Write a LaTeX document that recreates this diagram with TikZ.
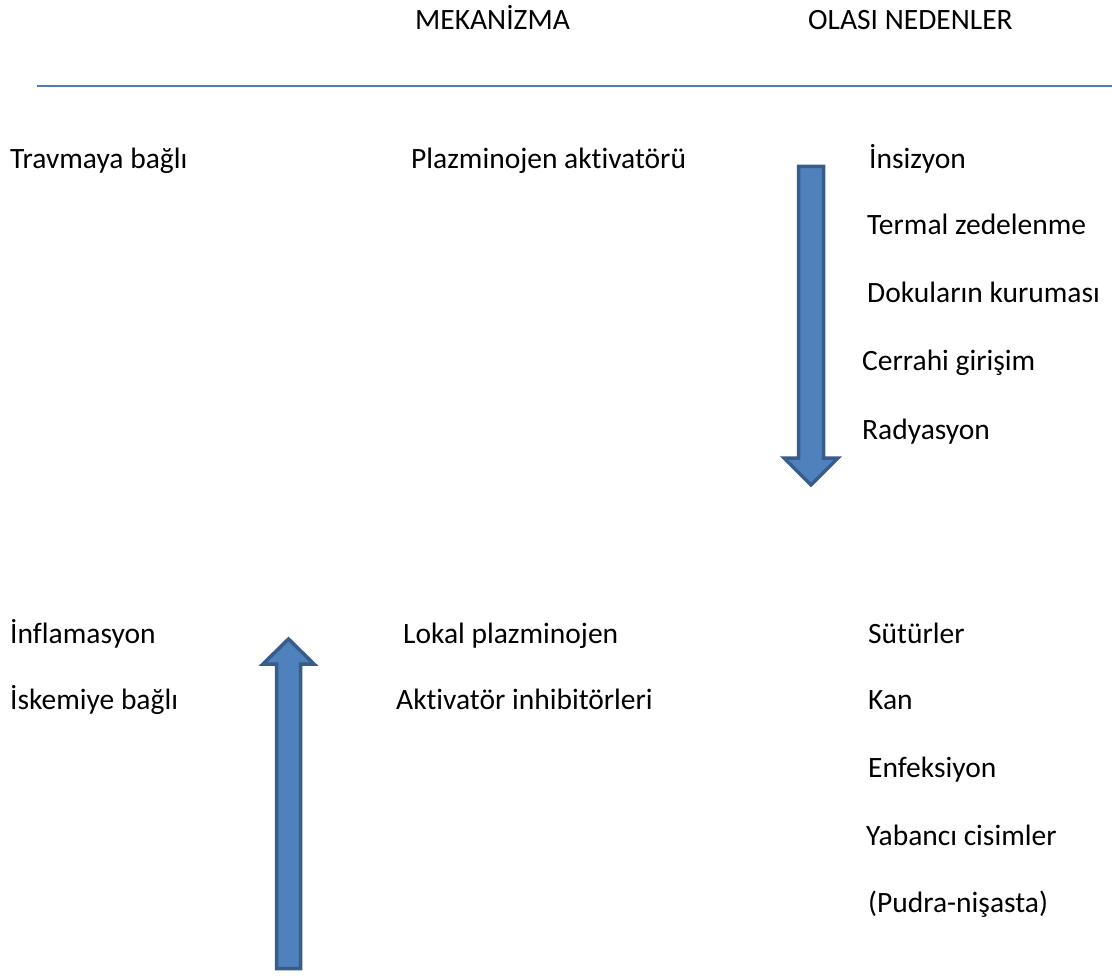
\documentclass[tikz,border=0pt]{standalone}
\usepackage{fontspec}
\setmainfont{Carlito}[Ligatures=NoCommon]
\definecolor{arrowfill}{HTML}{4F81BD}
\definecolor{arrowdraw}{HTML}{385D8A}
\definecolor{rulecol}{HTML}{4A7EBB}
\begin{document}
\begin{tikzpicture}[x=1pt,y=-1pt,
  lbl/.style={anchor=base west,inner sep=0pt,font=\fontsize{29.5}{34}\selectfont},
  hdr/.style={anchor=base west,inner sep=0pt,font=\fontsize{29.5}{34}\selectfont},
  fatarrow/.style={fill=arrowfill,draw=arrowdraw,line width=3.5pt,line join=miter}]
\useasboundingbox (0,0) rectangle (1112,976);
% headers
\node[hdr] (h1) at (415,30) {MEKANİZMA};
\node[hdr] (h2) at (808,30) {OLASI NEDENLER};
\coordinate (r1) at (37,86);
\coordinate (r2) at (1112,86);
\draw[rulecol,line width=1.8pt] (r1) -- (r2);
% top block
\node[lbl] (t1) at (10,169) {Travmaya bağlı};
\node[lbl] (t2) at (411,169) {Plazminojen aktivatörü};
\node[lbl] (c1) at (869,169) {İnsizyon};
\node[lbl] (c2) at (867,235) {Termal zedelenme};
\node[lbl] (c3) at (867,303) {Dokuların kuruması};
\node[lbl] (c4) at (862,371) {Cerrahi girişim};
\node[lbl] (c5) at (862,439) {Radyasyon};
% down arrow
\draw[fatarrow] (798.5,166.5) -- (823.5,166.5) -- (823.5,458) -- (838,458) -- (811,485) -- (784,458) -- (798.5,458) -- cycle;
% bottom block
\node[lbl] (b1) at (10,643) {İnflamasyon};
\node[lbl] (b2) at (10,709) {İskemiye bağlı};
\node[lbl] (m1) at (403,643) {Lokal plazminojen};
\node[lbl] (m2) at (396,709) {Aktivatör inhibitörleri};
\node[lbl] (d1) at (868,643) {Sütürler};
\node[lbl] (d2) at (868,709) {Kan};
\node[lbl] (d3) at (868,777) {Enfeksiyon};
\node[lbl] (d4) at (866,845) {Yabancı cisimler};
\node[lbl] (d5) at (868,912) {(Pudra-nişasta)};
% up arrow
\draw[fatarrow] (276.5,968.5) -- (300.5,968.5) -- (300.5,664) -- (314,664) -- (288.5,639) -- (263,664) -- (276.5,664) -- cycle;
\end{tikzpicture}
\end{document}
